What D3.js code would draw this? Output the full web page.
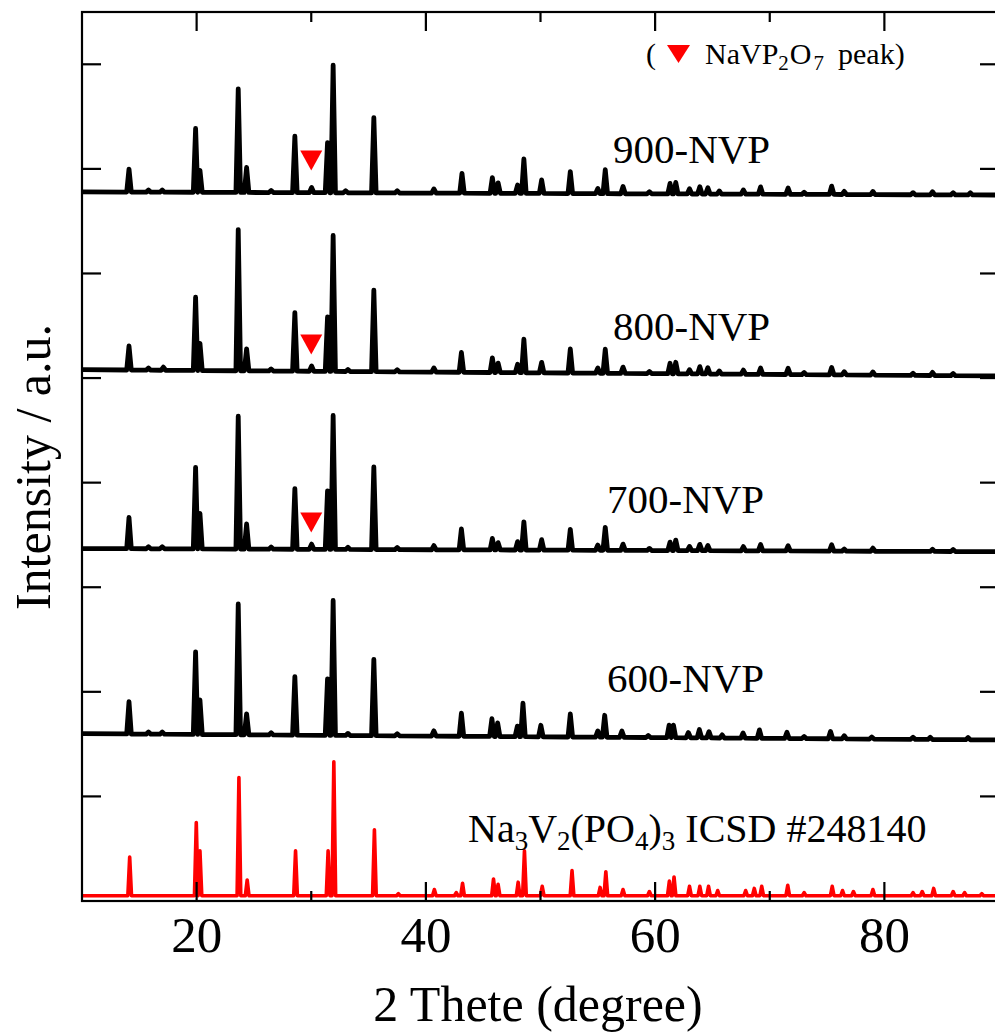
<!DOCTYPE html>
<html><head><meta charset="utf-8">
<script src="https://cdn.jsdelivr.net/npm/d3@7"></script>
<style>
body{margin:0;background:#fff}
svg{display:block}
text{font-family:"Liberation Serif","Times New Roman",serif;fill:#000}
</style>
</head><body>
<svg id="chart" width="995" height="1033"></svg>
<script>
// ---------------- DATA ----------------
// peaks: [2theta (deg), height above own baseline (a.u.)]; base: baseline level at 10 deg and 90 deg
const icsdBase = [5, 5];
const icsdPeaks = [[14.16,37],[19.97,70],[20.29,43],[23.69,113],[24.41,15],[28.63,43],[31.47,43],[31.97,128],[35.51,63],
  [37.6,2],[40.74,6],[42.65,3],[43.2,12],[45.9,16],[46.3,11],[48.05,13],[48.6,43],[50.15,9],[52.75,24],[55.2,8],[55.7,23],
  [57.2,6],[59.5,4],[61.24,14],[61.65,18],[63.0,9],[63.9,9],[64.66,9],[65.46,5],[67.9,5],[68.65,7],[69.3,9],[71.57,10],
  [73.0,3],[75.45,9],[76.35,5],[77.3,4],[79.0,6],[82.5,3],[83.3,4],[84.3,7],[86.0,4],[87.0,3],[88.5,2]];

const nvp600Base = [160, 154];
const nvp600Peaks = [[14.1,31],[15.8,2],[17.0,2],[19.91,79],[20.29,33],[23.63,125],[24.36,20],[26.5,2],[28.57,56],[31.42,54],[31.91,129],
  [33.2,2],[35.46,73],[37.5,2],[40.7,5],[43.1,22],[45.76,17],[46.26,13],[47.98,10],[48.47,32],[50.03,11],[52.6,22],[55.0,6],
  [55.6,21],[57.1,6],[59.4,2],[61.22,12],[61.6,12],[62.9,5],[63.86,8],[64.7,6],[65.85,3],[67.67,5],[69.1,8],[71.5,6],
  [73.0,2],[75.3,7],[76.5,3],[78.9,2],[82.5,2],[84.0,2],[87.3,2]];

const nvp700Base = [337, 334];
const nvp700Peaks = [[14.1,30],[15.8,2],[17.0,2],[19.91,78],[20.29,34],[23.63,127],[24.36,24],[26.5,2],[28.57,58],[30.03,5],[31.42,56],
  [31.91,128],[33.2,2],[35.46,79],[37.5,2],[40.7,4],[43.1,20],[45.8,11],[46.3,7],[48.0,8],[48.55,27],[50.1,10],[52.6,20],
  [55.0,5],[55.65,22],[57.2,6],[59.5,2],[61.3,8],[61.8,10],[63.0,4],[63.9,6],[64.6,5],[67.7,4],[69.2,6],[71.6,5],
  [75.4,6],[76.5,2],[79.0,3],[84.2,2],[86.0,2]];

const nvp800Base = [508, 502];
const nvp800Peaks = [[14.1,23],[15.8,2],[17.1,3],[19.91,70],[20.29,26],[23.63,135],[24.36,21],[26.5,2],[28.57,56],[30.03,5],[31.42,52],
  [31.91,130],[33.2,2],[35.46,78],[37.5,2],[40.7,4],[43.1,19],[45.8,14],[46.3,9],[48.0,8],[48.55,32],[50.1,10],[52.6,23],
  [55.0,5],[55.65,23],[57.2,6],[59.5,2],[61.3,10],[61.8,11],[63.0,4],[63.9,7],[64.6,6],[65.6,3],[67.7,4],[69.2,6],
  [71.6,6],[73.0,2],[75.4,7],[76.5,3],[79.0,3],[82.5,2],[84.2,3],[86.0,2]];

const nvp900Base = [678, 675];
const nvp900Peaks = [[14.1,22],[15.8,2],[17.0,2],[19.91,61],[20.29,21],[23.63,99],[24.36,24],[26.5,2],[28.57,54],[30.03,5],[31.42,48],
  [31.91,122],[33.0,2],[35.46,72],[37.5,2],[40.7,4],[43.15,19],[45.8,15],[46.3,10],[48.0,8],[48.55,33],[50.1,13],[52.6,21],
  [55.0,5],[55.65,23],[57.2,7],[59.5,2],[61.3,10],[61.8,11],[63.0,5],[63.9,7],[64.6,6],[65.6,3],[67.7,4],[69.2,7],
  [71.6,6],[73.0,2],[75.4,8],[76.5,3],[79.0,3],[82.5,2],[84.2,3],[86.0,2],[87.5,2]];

// NaVP2O7 markers: [2theta, level]
const naVP2O7Marks = [[30.0, 708], [30.0, 532], [30.0, 362]];

const seriesLabels = ["900-NVP", "800-NVP", "700-NVP", "600-NVP"];
const xTicksMajor = [20, 40, 60, 80];
const xTicksMinor = [30, 50, 70];
const yTicks = [100, 200, 300, 400, 500, 600, 700, 800];

// ---------------- CHART ----------------
const svg = d3.select("#chart");
const L = 82, R = 999, T = 12, B = 901;
const x = d3.scaleLinear().domain([10, 90]).range([L, R]);
const y = d3.scaleLinear().domain([0, 850]).range([B, T]);

function buildPoints(peaks, base, hw) {
  const b = d3.scaleLinear().domain([10, 90]).range(base);
  const s = peaks.slice().sort((a, c) => a[0] - c[0]);
  const pts = [[10, b(10)]];
  s.forEach((p, i) => {
    const prev = s[i - 1], next = s[i + 1];
    const l = prev ? Math.max(p[0] - hw, (prev[0] + p[0]) / 2) : p[0] - hw;
    const r = next ? Math.min(p[0] + hw, (p[0] + next[0]) / 2) : p[0] + hw;
    if (l > pts[pts.length - 1][0]) pts.push([l, b(l)]);
    pts.push([p[0], b(p[0]) + p[1]]);
    pts.push([r, b(r)]);
  });
  pts.push([90, b(90)]);
  return pts;
}
const line = d3.line().x(d => x(d[0])).y(d => y(d[1]));

const series = [
  {peaks: icsdPeaks, base: icsdBase, color: "#ff0000", w: 3.6, hw: 0.16},
  {peaks: nvp600Peaks, base: nvp600Base, color: "#000", w: 4.8, hw: 0.2},
  {peaks: nvp700Peaks, base: nvp700Base, color: "#000", w: 4.8, hw: 0.2},
  {peaks: nvp800Peaks, base: nvp800Base, color: "#000", w: 4.8, hw: 0.2},
  {peaks: nvp900Peaks, base: nvp900Base, color: "#000", w: 4.8, hw: 0.2}
];

svg.append("defs").append("clipPath").attr("id", "clip")
  .append("rect").attr("x", L).attr("y", T).attr("width", R - L).attr("height", B - T);

const g = svg.append("g").attr("clip-path", "url(#clip)");
series.forEach(s => {
  g.append("path").datum(buildPoints(s.peaks, s.base, s.hw))
    .attr("d", line).attr("fill", "none").attr("stroke", s.color)
    .attr("stroke-width", s.w).attr("stroke-linejoin", "round").attr("stroke-linecap", "round");
});

// markers
const tri = (cx, cy, w, h) => `M${cx - w / 2},${cy - h / 2}L${cx + w / 2},${cy - h / 2}L${cx},${cy + h / 2}Z`;
svg.selectAll("path.mark").data(naVP2O7Marks).enter().append("path").attr("class", "mark")
  .attr("d", d => tri(x(d[0]), y(d[1]), 22, 20)).attr("fill", "#ff0000");

// frame + ticks
const ax = svg.append("g").attr("stroke", "#000").attr("stroke-width", 2.2).attr("fill", "none");
ax.append("rect").attr("x", L).attr("y", T).attr("width", R - L).attr("height", B - T);
xTicksMajor.forEach(t => {
  ax.append("line").attr("x1", x(t)).attr("x2", x(t)).attr("y1", B).attr("y2", B - 19);
  ax.append("line").attr("x1", x(t)).attr("x2", x(t)).attr("y1", T).attr("y2", T + 19);
});
xTicksMinor.forEach(t => {
  ax.append("line").attr("x1", x(t)).attr("x2", x(t)).attr("y1", B).attr("y2", B - 10);
  ax.append("line").attr("x1", x(t)).attr("x2", x(t)).attr("y1", T).attr("y2", T + 10);
});
yTicks.forEach(t => {
  ax.append("line").attr("x1", L).attr("x2", L + 19).attr("y1", y(t)).attr("y2", y(t));
  ax.append("line").attr("x1", R).attr("x2", R - 19).attr("y1", y(t)).attr("y2", y(t));
});

// tick labels
svg.selectAll("text.xt").data(xTicksMajor).enter().append("text").attr("class", "xt")
  .attr("x", d => x(d)).attr("y", 952).attr("text-anchor", "middle").attr("font-size", 51).text(d => d);

// axis titles
svg.append("text").attr("x", 538).attr("y", 1021).attr("text-anchor", "middle").attr("font-size", 50).text("2 Thete (degree)");
svg.append("text").attr("transform", "translate(50,467) rotate(-90)").attr("text-anchor", "middle")
  .attr("font-size", 50).text("Intensity / a.u.");

// series labels
const labelPos = [[613, 163], [613, 340], [607, 513], [607, 692]];
seriesLabels.forEach((s, i) => {
  svg.append("text").attr("x", labelPos[i][0]).attr("y", labelPos[i][1]).attr("font-size", 41).text(s);
});

// ICSD label with subscripts
const ic = svg.append("text").attr("x", 468).attr("y", 842).attr("font-size", 40);
ic.append("tspan").text("Na");
ic.append("tspan").attr("font-size", 27).attr("dy", 8).text("3");
ic.append("tspan").attr("dy", -8).text("V");
ic.append("tspan").attr("font-size", 27).attr("dy", 8).text("2");
ic.append("tspan").attr("dy", -8).text("(PO");
ic.append("tspan").attr("font-size", 27).attr("dy", 8).text("4");
ic.append("tspan").attr("dy", -8).text(")");
ic.append("tspan").attr("font-size", 27).attr("dy", 8).text("3");
ic.append("tspan").attr("dy", -8).text(" ICSD #248140");

// legend
svg.append("text").attr("x", 646).attr("y", 64).attr("font-size", 30).text("(");
svg.append("path").attr("d", tri(678.5, 54, 23, 18)).attr("fill", "#ff0000");
const lg = svg.append("text").attr("x", 705).attr("y", 64).attr("font-size", 30);
lg.append("tspan").text("NaVP");
lg.append("tspan").attr("font-size", 21).attr("dy", 6).text("2");
lg.append("tspan").attr("dy", -6).attr("dx", 1).text("O");
lg.append("tspan").attr("font-size", 21).attr("dy", 6).attr("dx", 2).text("7");
lg.append("tspan").attr("dy", -6).attr("x", 838).text("peak)");
</script>
</body></html>
